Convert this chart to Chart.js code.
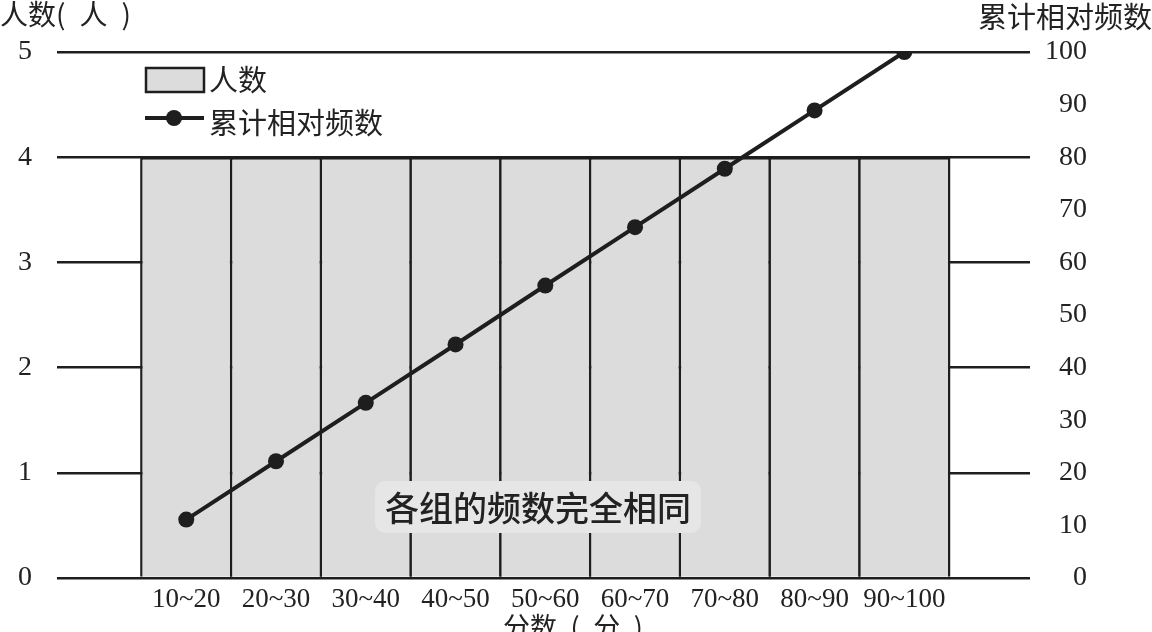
<!DOCTYPE html>
<html>
<head>
<meta charset="utf-8">
<script src="https://cdn.jsdelivr.net/npm/chart.js@4"></script>
<style>
  html, body { margin: 0; padding: 0; background: #ffffff; }
  #c { display: block; }
</style>
</head>
<body>
<canvas id="c" width="1152" height="632"></canvas>
<script>
const categories = ['10~20', '20~30', '30~40', '40~50', '50~60', '60~70', '70~80', '80~90', '90~100'];
const counts = [4, 4, 4, 4, 4, 4, 4, 4, 4];
const cumulative = [11.1, 22.2, 33.3, 44.4, 55.6, 66.7, 77.8, 88.9, 100];
const leftTitle = '人数(\u2002人\u2002)';
const rightTitle = '累计相对频数';
const xTitle = '分数\u2002(\u2002分\u2002)';
const note = '各组的频数完全相同';
const barLabel = '人数';
const lineLabel = '累计相对频数';

const INK = '#1e1e1e';
const BAR_FILL = '#dcdcdc';
const NUM_FONT = '"Liberation Serif", "DejaVu Serif", serif';
const CJK_FONT = '"Noto Sans CJK SC", "Noto Sans", sans-serif';

const overlay = {
  id: 'overlay',
  afterDatasetsDraw(chart) {
    const ctx = chart.ctx;
    ctx.save();
    // note with soft background
    ctx.font = '500 34px ' + CJK_FONT;
    const tw = ctx.measureText(note).width;
    const cx = 538, cy = 507;
    ctx.fillStyle = '#e6e6e6';
    const bx = cx - tw / 2 - 10, by = cy - 26, bw = tw + 20, bh = 52;
    ctx.beginPath();
    if (ctx.roundRect) ctx.roundRect(bx, by, bw, bh, 10); else ctx.rect(bx, by, bw, bh);
    ctx.fill();
    ctx.fillStyle = '#222';
    ctx.textAlign = 'center';
    ctx.textBaseline = 'middle';
    ctx.fillText(note, cx, cy + 1);

    // legend
    ctx.font = '29px ' + CJK_FONT;
    ctx.textAlign = 'left';
    ctx.fillStyle = BAR_FILL;
    ctx.fillRect(146, 68, 58, 24);
    ctx.strokeStyle = INK;
    ctx.lineWidth = 2.5;
    ctx.strokeRect(146, 68, 58, 24);
    ctx.fillStyle = '#222';
    ctx.fillText(barLabel, 209, 80);
    ctx.beginPath();
    ctx.moveTo(145, 118);
    ctx.lineTo(204, 118);
    ctx.lineWidth = 4;
    ctx.stroke();
    ctx.beginPath();
    ctx.arc(174, 118, 8, 0, Math.PI * 2);
    ctx.fillStyle = INK;
    ctx.fill();
    ctx.fillStyle = '#222';
    ctx.fillText(lineLabel, 209, 123);

    // axis titles
    ctx.font = '28px ' + CJK_FONT;
    ctx.textBaseline = 'top';
    ctx.textAlign = 'left';
    ctx.fillText(leftTitle, 0, 0);
    ctx.textAlign = 'right';
    ctx.font = '29px ' + CJK_FONT;
    ctx.fillText(rightTitle, 1152, 2);
    ctx.textAlign = 'center';
    ctx.font = '27px ' + CJK_FONT;
    ctx.fillText(xTitle, 573, 613);
    ctx.restore();
  }
};

new Chart(document.getElementById('c'), {
  type: 'bar',
  data: {
    datasets: [
      {
        type: 'line',
        label: lineLabel,
        data: cumulative.map((v, i) => ({ x: i, y: v })),
        yAxisID: 'y1',
        borderColor: INK,
        borderWidth: 4,
        pointRadius: 8,
        pointBackgroundColor: INK,
        pointBorderWidth: 0,
        tension: 0,
        order: 0
      },
      {
        type: 'bar',
        label: barLabel,
        data: counts.map((v, i) => ({ x: i, y: v })),
        yAxisID: 'y',
        backgroundColor: BAR_FILL,
        borderColor: INK,
        borderWidth: 2.5,
        barPercentage: 1.028,
        categoryPercentage: 1,
        order: 1
      }
    ]
  },
  options: {
    responsive: false,
    animation: false,
    devicePixelRatio: 1,
    layout: { padding: { left: 0, right: 65, top: 52, bottom: 0 } },
    plugins: { legend: { display: false }, tooltip: { enabled: false } },
    scales: {
      x: {
        type: 'linear',
        offset: false,
        min: -1.44,
        max: 9.40,
        afterBuildTicks(scale) { scale.ticks = categories.map((c, i) => ({ value: i })); },
        afterFit(scale) { scale.height = 54; },
        grid: { display: false, drawTicks: false },
        border: { display: false },
        ticks: {
          autoSkip: false,
          maxRotation: 0,
          padding: 6,
          color: '#222',
          font: { family: NUM_FONT, size: 27 },
          callback: (v) => categories[v] ?? ''
        }
      },
      y: {
        position: 'left',
        min: 0,
        max: 5,
        afterFit(scale) { scale.width = 57; },
        grid: { color: INK, lineWidth: 2.5, drawTicks: false },
        border: { display: false },
        ticks: {
          stepSize: 1,
          padding: 25,
          color: '#222',
          font: { family: NUM_FONT, size: 28 }
        }
      },
      y1: {
        position: 'right',
        min: 0,
        max: 100,
        afterFit(scale) { scale.width = 57; },
        grid: { display: false, drawTicks: false },
        border: { display: false },
        ticks: {
          stepSize: 10,
          crossAlign: 'far',
          color: '#222',
          font: { family: NUM_FONT, size: 28 }
        }
      }
    }
  },
  plugins: [overlay]
});
</script>
</body>
</html>
